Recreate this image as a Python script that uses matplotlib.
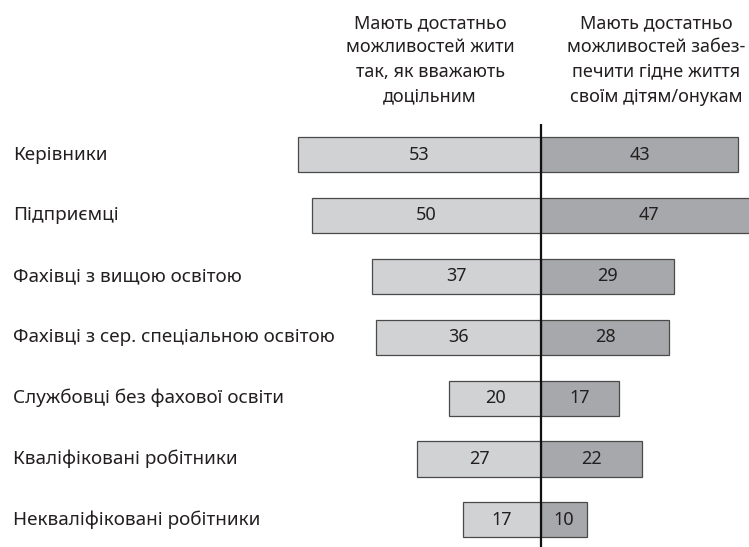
import matplotlib
matplotlib.use("Agg")
import matplotlib.pyplot as plt

plt.rcParams['font.family'] = ['Noto Sans', 'DejaVu Sans']

categories = [
    "Керівники",
    "Підприємці",
    "Фахівці з вищою освітою",
    "Фахівці з сер. спеціальною освітою",
    "Службовці без фахової освіти",
    "Кваліфіковані робітники",
    "Некваліфіковані робітники",
]
live_as_wish = [53, 50, 37, 36, 20, 27, 17]
provide_children = [43, 47, 29, 28, 17, 22, 10]

header_left = ["Мають достатньо", "можливостей жити",
               "так, як вважають", "доцільним"]
header_right = ["Мають достатньо", "можливостей забез-",
                "печити гідне життя", "своїм дітям/онукам"]

light = "#d1d2d4"
dark = "#a7a8ab"
edge = "#4a4a4a"
ink = "#231f20"

fig = plt.figure(figsize=(7.49, 5.47), dpi=100)
ax = fig.add_axes([0, 0, 1, 1])
ax.set_xlim(-118.1, 45.4)
ax.set_ylim(6.445, -2.537)
ax.axis("off")

rows = list(range(len(categories)))
h = 0.575
ax.barh(rows, [-v for v in live_as_wish], height=h, color=light,
        edgecolor=edge, linewidth=0.9)
ax.barh(rows, provide_children, height=h, color=dark,
        edgecolor=edge, linewidth=0.9)

for i, (a, b) in enumerate(zip(live_as_wish, provide_children)):
    ax.text(-a / 2, i, str(a), ha="center", va="center", fontsize=13,
            color=ink)
    ax.text(b / 2, i, str(b), ha="center", va="center", fontsize=13,
            color=ink)

for i, name in enumerate(categories):
    ax.text(-115.3, i, name, ha="left", va="center", fontsize=13.6,
            color=ink)

ax.plot([0, 0], [-0.5, 6.445], color="#111111", linewidth=1.6, zorder=5,
        solid_capstyle="butt")

# two column headers, one line at a time
line_rows = [-2.16, -1.76, -1.36, -0.95]
for y, left, right in zip(line_rows, header_left, header_right):
    ax.text(-24.2, y, left, ha="center", va="center", fontsize=13,
            color=ink)
    ax.text(25.2, y, right, ha="center", va="center", fontsize=13,
            color=ink)

fig.savefig("out.png", dpi=100)
